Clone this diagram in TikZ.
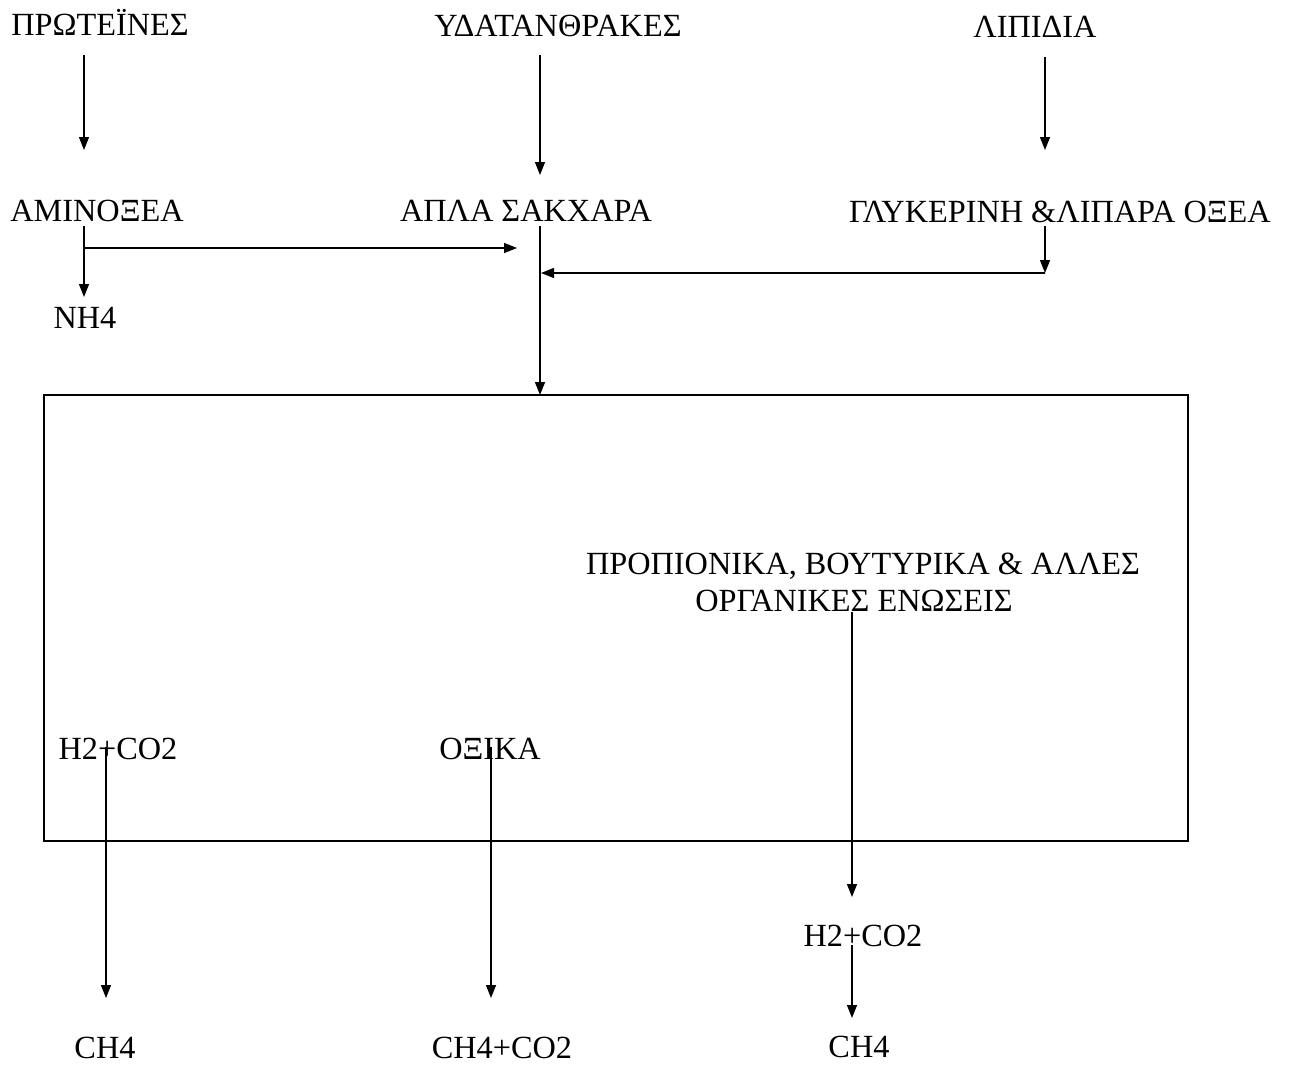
\documentclass[tikz,border=0pt]{standalone}
\usepackage{fontspec}
\setmainfont{Liberation Serif}
\usetikzlibrary{arrows.meta}
\begin{document}
\begin{tikzpicture}[x=1pt,y=-1pt,
  lbl/.style={font=\fontsize{32.3}{37}\selectfont, inner sep=0pt, anchor=base},
  ln/.style={line width=1.4pt},
  arr/.style={line width=1.4pt, -{Triangle[length=13pt,width=10pt]}}]
\useasboundingbox (0,0) rectangle (1291,1066);
% labels
\node[lbl] (prot) at (100,35) {ΠΡΩΤΕΪΝΕΣ};
\node[lbl] (ydat) at (558,36) {ΥΔΑΤΑΝΘΡΑΚΕΣ};
\node[lbl] (lip) at (1035,37) {ΛΙΠΙΔΙΑ};
\node[lbl] (amin) at (97,221) {ΑΜΙΝΟΞΕΑ};
\node[lbl] (apla) at (526,221) {ΑΠΛΑ ΣΑΚΧΑΡΑ};
\node[lbl] (glyk) at (1060,222) {ΓΛΥΚΕΡΙΝΗ \&ΛΙΠΑΡΑ ΟΞΕΑ};
\node[lbl] (nh4) at (85,328) {NH4};
\node[draw, ln, inner sep=0pt, minimum width=1144pt, minimum height=446pt] (box) at (616,618) {};
\node[lbl] (propa) at (863,574) {ΠΡΟΠΙΟΝΙΚΑ, ΒΟΥΤΥΡΙΚΑ \& ΑΛΛΕΣ};
\node[lbl] (propb) at (854,611) {ΟΡΓΑΝΙΚΕΣ ΕΝΩΣΕΙΣ};
\node[lbl] (h2l) at (118,759) {H2+CO2};
\node[lbl] (oxika) at (490,759) {ΟΞΙΚΑ};
\node[lbl] (h2r) at (863,946) {H2+CO2};
\node[lbl] (ch4l) at (105,1058) {CH4};
\node[lbl] (ch4co2) at (502,1058) {CH4+CO2};
\node[lbl] (ch4r) at (859,1057) {CH4};
% coordinates
\coordinate (a1s) at (84,55);   \coordinate (a1e) at (84,150);
\coordinate (a2s) at (540,55);  \coordinate (a2e) at (540,175);
\coordinate (a3s) at (1045,57); \coordinate (a3e) at (1045,150);
\coordinate (b1s) at (84,226);  \coordinate (b1e) at (84,297);
\coordinate (b1m) at (84,248);  \coordinate (b1h) at (517,248);
\coordinate (b2s) at (540,226); \coordinate (b2e) at (540,395);
\coordinate (b3s) at (1045,226); \coordinate (b3e) at (1045,273);
\coordinate (b3h) at (541,273);
\coordinate (c1s) at (852,612); \coordinate (c1e) at (852,897);
\coordinate (d1s) at (106,747); \coordinate (d1e) at (106,998);
\coordinate (d2s) at (491,747); \coordinate (d2e) at (491,998);
\coordinate (d3s) at (852,945); \coordinate (d3e) at (852,1018);
% connectors
\draw[arr] (a1s) -- (a1e);
\draw[arr] (a2s) -- (a2e);
\draw[arr] (a3s) -- (a3e);
\draw[arr] (b1s) -- (b1e);
\draw[arr] (b1m) -- (b1h);
\draw[arr] (b2s) -- (b2e);
\draw[arr] (b3s) -- (b3e);
\draw[arr] (b3e) -- (b3h);
\draw[arr] (c1s) -- (c1e);
\draw[arr] (d1s) -- (d1e);
\draw[arr] (d2s) -- (d2e);
\draw[arr] (d3s) -- (d3e);
\end{tikzpicture}
\end{document}
